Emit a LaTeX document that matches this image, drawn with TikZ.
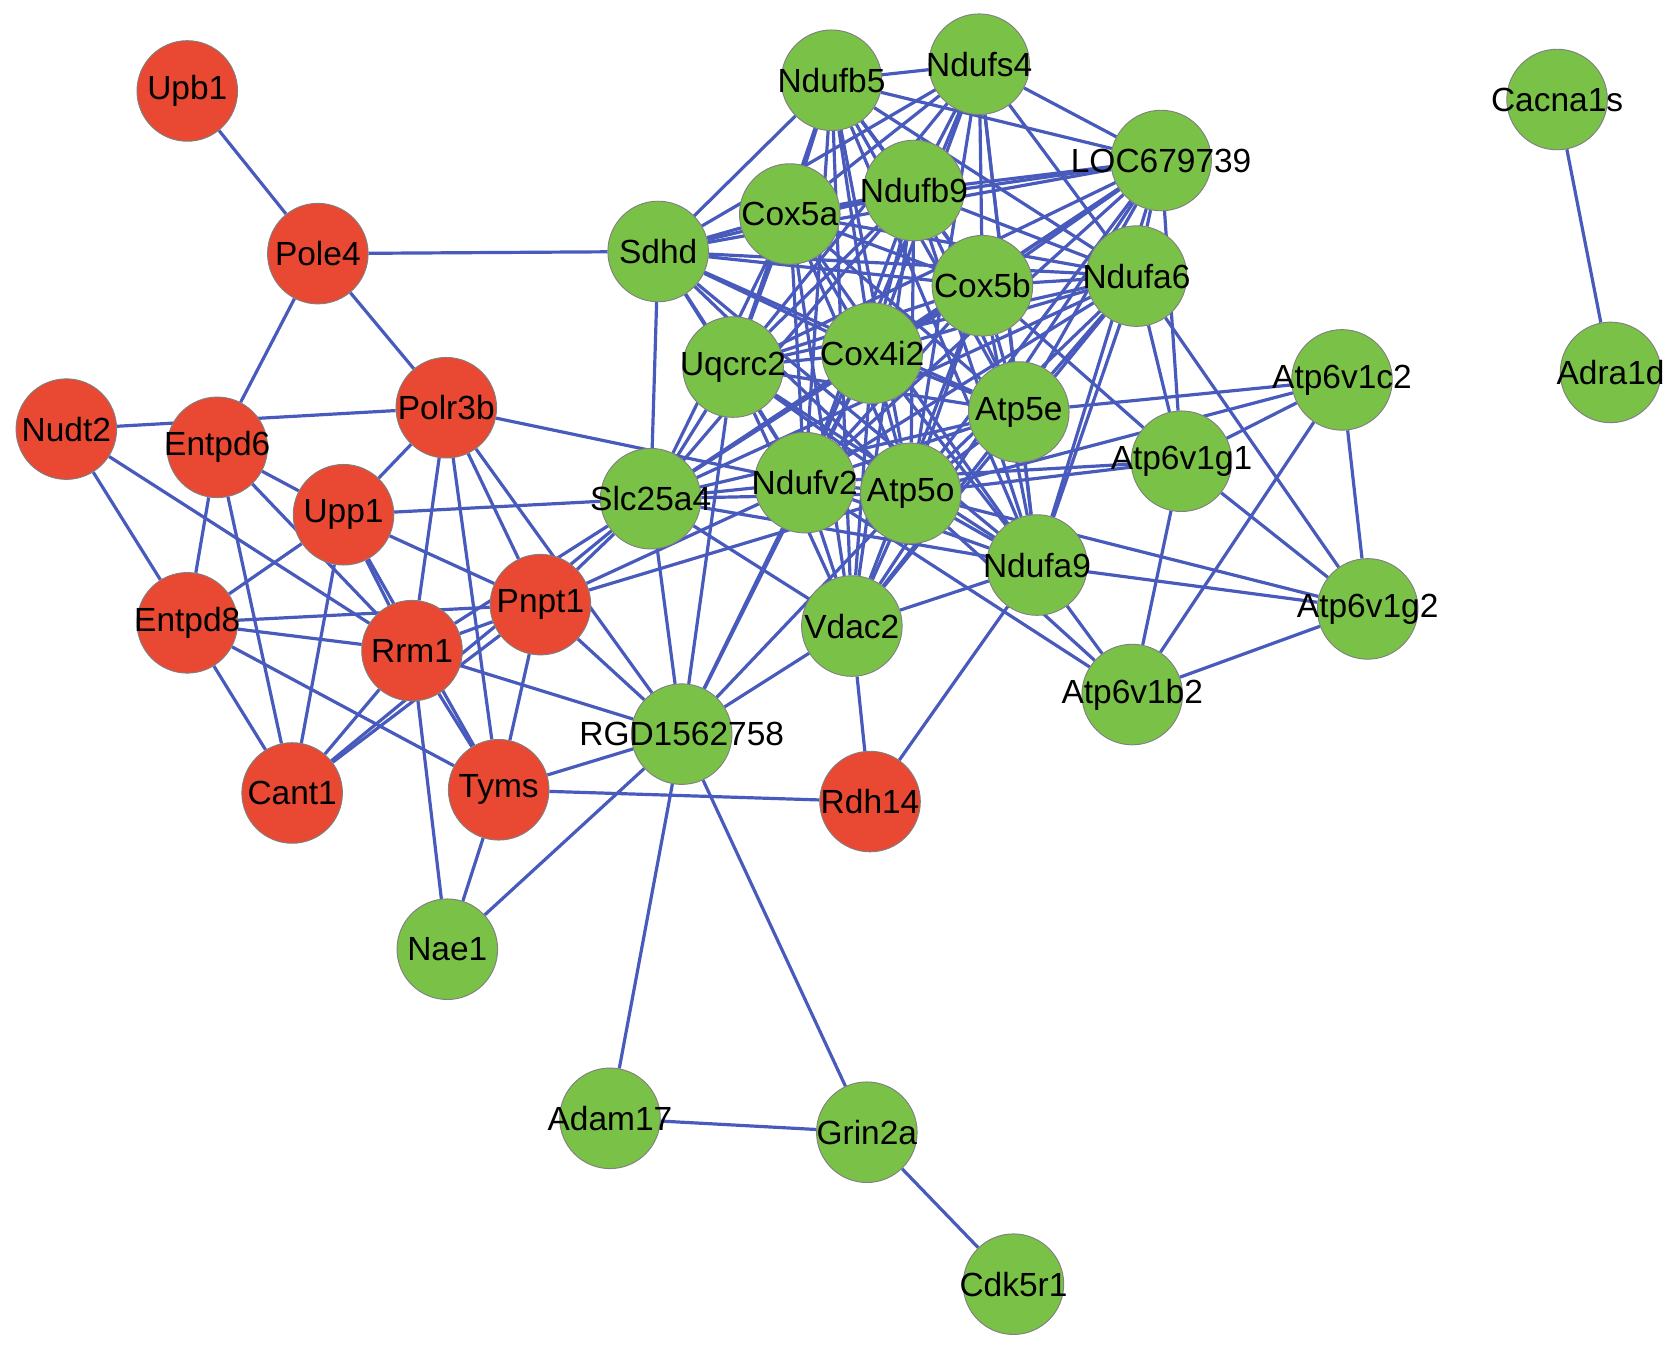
\documentclass[tikz,border=0pt]{standalone}
\usepackage{fontspec}
\setmainfont{Liberation Sans}
\usetikzlibrary{backgrounds}
\definecolor{edgeblue}{RGB}{72,90,188}
\definecolor{gred}{RGB}{233,72,50}
\definecolor{ggreen}{RGB}{122,193,72}
\begin{document}
\begin{tikzpicture}[x=0.02cm, y=-0.02cm,
  gene/.style={circle, minimum size=1.88cm, inner sep=0pt, draw=black!50, line width=0.5pt},
  rgene/.style={gene, fill=gred},
  ggene/.style={gene, fill=ggreen},
  txt/.style={font=\fontsize{17.8}{20}\selectfont, text=black, inner sep=0pt},
  link/.style={draw=edgeblue, line width=1.7pt}]
\useasboundingbox (0,0) rectangle (1568,1263);
% red nodes
\node[rgene, label={[txt]center:Upb1}] (Upb1) at (175,85) {};
\node[rgene, label={[txt]center:Pole4}] (Pole4) at (297,237) {};
\node[rgene, label={[txt]center:Nudt2}] (Nudt2) at (62,401) {};
\node[rgene, label={[txt]center:Entpd6}] (Entpd6) at (203,418) {};
\node[rgene, label={[txt]center:Polr3b}] (Polr3b) at (417,381) {};
\node[rgene, label={[txt]center:Upp1}] (Upp1) at (321,481) {};
\node[rgene, label={[txt]center:Entpd8}] (Entpd8) at (175,582) {};
\node[rgene, label={[txt]center:Pnpt1}] (Pnpt1) at (505,565) {};
\node[rgene, label={[txt]center:Rrm1}] (Rrm1) at (385,608) {};
\node[rgene, label={[txt]center:Cant1}] (Cant1) at (273,741) {};
\node[rgene, label={[txt]center:Tyms}] (Tyms) at (466,738) {};
\node[rgene, label={[txt]center:Rdh14}] (Rdh14) at (813,749) {};
% green nodes
\node[ggene, label={[txt]center:Nae1}] (Nae1) at (418,887) {};
\node[ggene, label={[txt]center:Adam17}] (Adam17) at (570,1045) {};
\node[ggene, label={[txt]center:Grin2a}] (Grin2a) at (810,1058) {};
\node[ggene, label={[txt]center:Cdk5r1}] (Cdk5r1) at (947,1200) {};
\node[ggene, label={[txt]center:RGD1562758}] (RGD) at (637,686) {};
\node[ggene, label={[txt]center:Vdac2}] (Vdac2) at (796,585) {};
\node[ggene, label={[txt]center:Slc25a4}] (Slc25a4) at (608,466) {};
\node[ggene, label={[txt]center:Ndufv2}] (Ndufv2) at (752,451) {};
\node[ggene, label={[txt]center:Atp5o}] (Atp5o) at (851,461) {};
\node[ggene, label={[txt]center:Ndufa9}] (Ndufa9) at (969,528) {};
\node[ggene, label={[txt]center:Sdhd}] (Sdhd) at (615,235) {};
\node[ggene, label={[txt]center:Uqcrc2}] (Uqcrc2) at (685,343) {};
\node[ggene, label={[txt]center:Cox4i2}] (Cox4i2) at (815,330) {};
\node[ggene, label={[txt]center:Cox5a}] (Cox5a) at (738,200) {};
\node[ggene, label={[txt]center:Ndufb9}] (Ndufb9) at (854,178) {};
\node[ggene, label={[txt]center:Ndufb5}] (Ndufb5) at (777,75) {};
\node[ggene, label={[txt]center:Ndufs4}] (Ndufs4) at (915,60) {};
\node[ggene, label={[txt]center:LOC679739}] (LOC) at (1085,150) {};
\node[ggene, label={[txt]center:Cox5b}] (Cox5b) at (918,267) {};
\node[ggene, label={[txt]center:Ndufa6}] (Ndufa6) at (1062,258) {};
\node[ggene, label={[txt]center:Atp5e}] (Atp5e) at (952,385) {};
\node[ggene, label={[txt]center:Atp6v1g1}] (Atp6v1g1) at (1104,431) {};
\node[ggene, label={[txt]center:Atp6v1c2}] (Atp6v1c2) at (1254,355) {};
\node[ggene, label={[txt]center:Atp6v1g2}] (Atp6v1g2) at (1278,569) {};
\node[ggene, label={[txt]center:Atp6v1b2}] (Atp6v1b2) at (1058,649) {};
\node[ggene, label={[txt]center:Cacna1s}] (Cacna1s) at (1455,93) {};
\node[ggene, label={[txt]center:Adra1d}] (Adra1d) at (1505,348) {};
\begin{scope}[on background layer]
% core clique
\foreach \a [count=\i] in {Sdhd,Uqcrc2,Cox4i2,Cox5a,Ndufb9,Ndufb5,Ndufs4,LOC,Cox5b,Ndufa6,Atp5e,Ndufv2,Atp5o,Ndufa9}{
  \foreach \b [count=\j] in {Sdhd,Uqcrc2,Cox4i2,Cox5a,Ndufb9,Ndufb5,Ndufs4,LOC,Cox5b,Ndufa6,Atp5e,Ndufv2,Atp5o,Ndufa9}{
    \ifnum\j>\i \draw[link] (\a) -- (\b); \fi
  }
}
\foreach \b in {Sdhd,Uqcrc2,Cox4i2,Cox5a,Ndufb9,Cox5b,Ndufv2,Atp5o,Atp5e,Ndufa9,Ndufa6,LOC,Vdac2,RGD}
  \draw[link] (Slc25a4) -- (\b);
\foreach \b in {Uqcrc2,Cox4i2,Cox5a,Ndufb9,Ndufb5,Cox5b,Ndufv2,Atp5o,Atp5e,Ndufa9,Ndufa6,LOC,RGD,Rdh14}
  \draw[link] (Vdac2) -- (\b);
\foreach \a/\b in {Upb1/Pole4, Pole4/Sdhd, Pole4/Entpd6, Pole4/Polr3b,
  Nudt2/Polr3b, Nudt2/Entpd8, Nudt2/Rrm1,
  Entpd6/Upp1, Entpd6/Entpd8, Entpd6/Cant1, Entpd6/Rrm1,
  Polr3b/Upp1, Polr3b/Rrm1, Polr3b/Tyms, Polr3b/Pnpt1, Polr3b/RGD, Polr3b/Ndufv2,
  Upp1/Slc25a4, Upp1/Pnpt1, Upp1/Rrm1, Upp1/Tyms, Upp1/Cant1, Upp1/Entpd8,
  Entpd8/Rrm1, Entpd8/Pnpt1, Entpd8/Cant1, Entpd8/Tyms,
  Pnpt1/Rrm1, Pnpt1/Tyms, Pnpt1/Cant1, Pnpt1/Slc25a4, Pnpt1/RGD, Pnpt1/Ndufv2, Pnpt1/Atp5o,
  Rrm1/Cant1, Rrm1/Tyms, Rrm1/Nae1, Rrm1/Slc25a4, Rrm1/RGD,
  Cant1/Slc25a4,
  Tyms/Nae1, Tyms/RGD, Tyms/Rdh14, Nae1/RGD,
  RGD/Uqcrc2, RGD/Ndufv2, RGD/Atp5o, RGD/Cox4i2,
  RGD/Adam17, RGD/Grin2a, Adam17/Grin2a, Grin2a/Cdk5r1,
  Ndufa9/Rdh14, Cacna1s/Adra1d,
  Atp5e/Atp6v1c2, Atp5o/Atp6v1c2, Atp6v1c2/Atp6v1g1, Atp6v1c2/Atp6v1g2, Atp6v1c2/Atp6v1b2,
  Atp6v1g1/Atp6v1g2, Atp6v1g1/Atp6v1b2, Atp6v1g2/Atp6v1b2,
  Ndufa9/Atp6v1g2, Ndufa9/Atp6v1b2, Ndufa6/Atp6v1g1, Ndufa6/Atp6v1g2,
  Atp5o/Atp6v1g1, Ndufv2/Atp6v1g1, Atp5o/Atp6v1b2, Ndufv2/Atp6v1b2, Atp5o/Atp6v1g2,
  Cox5b/Atp6v1g1, LOC/Atp6v1g1}
  \draw[link] (\a) -- (\b);
\end{scope}
\end{tikzpicture}
\end{document}
